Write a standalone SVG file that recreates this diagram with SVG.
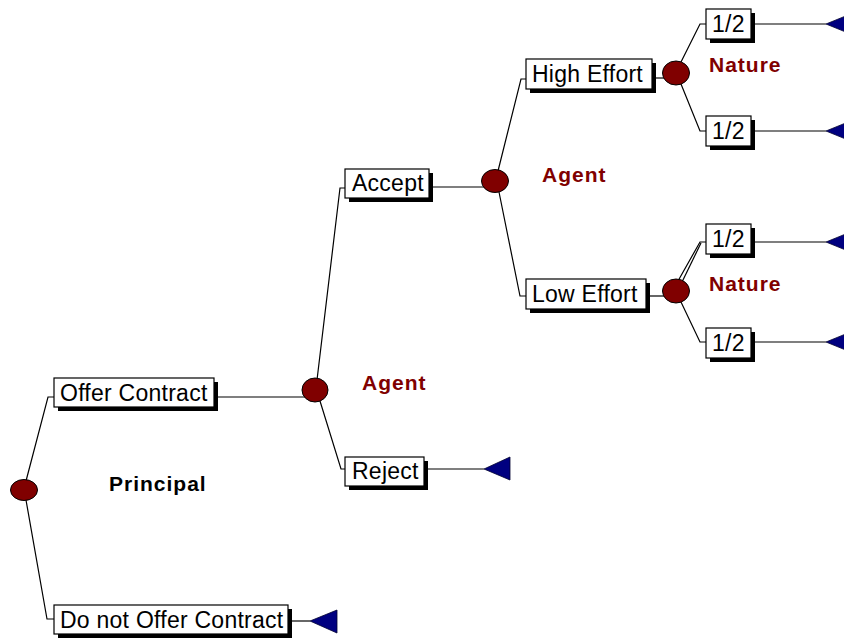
<svg xmlns="http://www.w3.org/2000/svg" width="844" height="641" viewBox="0 0 844 641">
<style>
.bg{fill:#ffffff}
.c{stroke:#000;stroke-width:1.2;fill:none}
.box{fill:#fff;stroke:#000;stroke-width:1.2}
.sh{fill:#000}
.t{font-family:"Liberation Sans",Arial,sans-serif;font-size:23px;letter-spacing:0.25px;fill:#000}
.lab{font-family:"Liberation Sans",Arial,sans-serif;font-size:21px;font-weight:bold;letter-spacing:1px}
.red{fill:#800000}
.blk{fill:#000}
.node{fill:#800000;stroke:#000;stroke-width:1}
.term{fill:#000080;stroke:#000030;stroke-width:0.8}
</style>
<rect class="bg" x="0" y="0" width="844" height="641"/>
<g id="connectors">
<polyline class="c" points="26,481 48,397 54,397"/>
<polyline class="c" points="26,500 47,619 54,619"/>
<line class="c" x1="214" y1="397" x2="310" y2="397"/>
<polyline class="c" points="317,380 340,188 345,188"/>
<polyline class="c" points="320,401 341,469 345,469"/>
<line class="c" x1="429" y1="187" x2="490" y2="187"/>
<polyline class="c" points="498,171 521,79 526,79"/>
<polyline class="c" points="499,192 520,296 526,296"/>
<line class="c" x1="652" y1="78" x2="668" y2="78"/>
<polyline class="c" points="681,62 700,24 706,24"/>
<polyline class="c" points="681,84 700,131 706,131"/>
<line class="c" x1="646" y1="296" x2="668" y2="296"/>
<polyline class="c" points="678,281 700,242 706,242"/>
<line class="c" x1="682" y1="282" x2="701" y2="243"/>
<polyline class="c" points="681,302 700,342 706,342"/>
<line class="c" x1="751" y1="24" x2="826" y2="24"/>
<line class="c" x1="751" y1="131" x2="826" y2="131"/>
<line class="c" x1="751" y1="242" x2="826" y2="242"/>
<line class="c" x1="751" y1="342" x2="826" y2="342"/>
<line class="c" x1="424" y1="469" x2="484" y2="469"/>
<line class="c" x1="288" y1="621" x2="310" y2="621"/>
</g>
<g id="n-root"><ellipse class="node" cx="24" cy="490" rx="13.5" ry="10.5"/></g>
<g id="n-offer"><rect class="sh" x="58" y="382" width="160" height="29"/><rect class="box" x="54" y="378" width="160" height="29"/><text class="t" x="60" y="401">Offer Contract</text></g>
<g id="n-donot"><rect class="sh" x="58" y="609" width="234" height="29"/><rect class="box" x="54" y="605" width="234" height="29"/><text class="t" x="60" y="628">Do not Offer Contract</text></g>
<g id="n-principal"><text class="lab blk" x="109" y="491">Principal</text></g>
<g id="n-term-donot"><polygon class="term" points="310,621 337,610 337,633"/></g>
<g id="n-agent1"><ellipse class="node" cx="315" cy="390" rx="13" ry="12"/><text class="lab red" x="362" y="390">Agent</text></g>
<g id="n-accept"><rect class="sh" x="349" y="173" width="84" height="29"/><rect class="box" x="345" y="169" width="84" height="29"/><text class="t" x="352" y="191">Accept</text></g>
<g id="n-reject"><rect class="sh" x="349" y="461" width="79" height="29"/><rect class="box" x="345" y="457" width="79" height="29"/><text class="t" x="352" y="479">Reject</text></g>
<g id="n-term-reject"><polygon class="term" points="484,469 510,457 510,480"/></g>
<g id="n-agent2"><ellipse class="node" cx="495" cy="181" rx="13.5" ry="11.5"/><text class="lab red" x="542" y="182">Agent</text></g>
<g id="n-high"><rect class="sh" x="530" y="63" width="126" height="30"/><rect class="box" x="526" y="59" width="126" height="30"/><text class="t" x="532" y="82">High Effort</text></g>
<g id="n-low"><rect class="sh" x="530" y="283" width="120" height="30"/><rect class="box" x="526" y="279" width="120" height="30"/><text class="t" x="532" y="302">Low Effort</text></g>
<g id="n-nature1"><ellipse class="node" cx="676" cy="73" rx="13.5" ry="12"/><text class="lab red" x="709" y="72">Nature</text></g>
<g id="n-nature2"><ellipse class="node" cx="676" cy="291" rx="13.5" ry="12"/><text class="lab red" x="709" y="291">Nature</text></g>
<g id="n-p1"><rect class="sh" x="710" y="13" width="45" height="30"/><rect class="box" x="706" y="9" width="45" height="30"/><text class="t" x="712" y="32">1/2</text></g>
<g id="n-p2"><rect class="sh" x="710" y="120" width="45" height="30"/><rect class="box" x="706" y="116" width="45" height="30"/><text class="t" x="712" y="139">1/2</text></g>
<g id="n-p3"><rect class="sh" x="710" y="228" width="45" height="30"/><rect class="box" x="706" y="224" width="45" height="30"/><text class="t" x="712" y="247">1/2</text></g>
<g id="n-p4"><rect class="sh" x="710" y="332" width="45" height="30"/><rect class="box" x="706" y="328" width="45" height="30"/><text class="t" x="712" y="351">1/2</text></g>
<g id="n-terms-right">
<polygon class="term" points="826,24 853,13 853,35"/>
<polygon class="term" points="826,131 853,120 853,142"/>
<polygon class="term" points="826,242 853,231 853,253"/>
<polygon class="term" points="826,342 853,331 853,353"/>
</g>
</svg>
